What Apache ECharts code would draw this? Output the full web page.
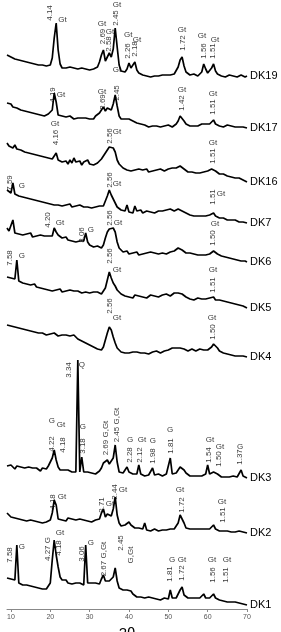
<!DOCTYPE html>
<html><head><meta charset="utf-8">
<script src="https://cdn.jsdelivr.net/npm/echarts@6/dist/echarts.min.js"></script>
<style>html,body{margin:0;padding:0;background:#fff}#c{width:281px;height:632px}</style>
</head><body><div id="c"></div>
<script>
// 2-theta scan positions (degrees)
const twoTheta = [9,9.5,10,10.5,11,11.5,12,12.5,13,13.5,14,14.5,15,15.5,16,16.5,17,17.5,18,18.5,
19,19.5,20,20.5,21,21.5,22,22.5,23,23.5,24,24.5,25,25.5,26,26.5,27,27.5,28,28.5,
29,29.5,30,30.5,31,31.5,32,32.5,33,33.5,34,34.5,35,35.5,36,36.5,37,37.5,38,38.5,
39,39.5,40,40.5,41,41.5,42,42.5,43,43.5,44,44.5,45,45.5,46,46.5,47,47.5,48,48.5,
49,49.5,50,50.5,51,51.5,52,52.5,53,53.5,54,54.5,55,55.5,56,56.5,57,57.5,58,58.5,
59,59.5,60,60.5,61,61.5,62,62.5,63,63.5,64,64.5,65,65.5,66,66.5,67,67.5,68,68.5,69,69.5,70];

const sampleNames = ['DK19','DK17','DK16','DK7','DK6','DK5','DK4','DK3','DK2','DK1'];
// vertical stacking offset of each pattern (intensity units)
const offsets = [532,481,427,386,347,301,252,129,76,4];

const dk19 = [22,24,20,21,18,20,17,19,16,18, 15,17,14,16,13,15,12,14,12,13, 11,13,12,19,39,54,27,13,9,8,
9,7,10,8,9,11,8,7,9,8, 8,10,7,9,8,9,10,15,22,27, 16,20,24,20,28,49,30,12,6,4,
5,8,14,9,10,15,7,4,3,2, 3,1,2,0,2,1,3,1,0,2, 1,2,0,2,1,3,5,10,17,20,
11,5,3,2,1,3,2,1,2,5, 13,8,4,6,9,13,6,3,2,1, 2,0,1,2,0,1,2,0,1,2, 1,0,1];
const dk17 = [25,23,24,21,22,20,21,18,19,17, 18,16,17,15,16,14,15,13,14,12, 13,14,12,18,35,26,13,11,12,10,
11,9,12,10,9,11,10,8,10,9, 10,8,9,11,9,12,11,15,18,21, 17,20,21,18,24,33,22,12,9,8,
9,8,9,10,7,6,5,6,4,3, 3,2,1,3,2,1,2,3,1,2, 2,1,3,2,1,2,4,7,12,13,
7,4,3,2,3,2,3,2,3,4, 6,4,3,4,5,8,4,3,2,3, 1,2,3,1,2,0,1,2,1,0, 1,0,0];
const dk16 = [39,36,38,34,37,33,35,32,34,30, 32,29,31,28,30,27,29,26,28,25, 26,24,25,23,26,29,22,21,20,19,
21,18,22,19,24,20,18,21,17,20, 19,22,18,20,17,18,19,21,23,26, 29,32,35,33,34,30,22,18,16,14,
13,12,14,11,13,12,10,13,11,12, 11,13,10,12,11,10,12,11,13,12, 11,12,13,12,14,15,14,15,16,15,
13,11,10,9,10,11,9,10,9,10, 10,9,11,10,13,15,11,9,8,8, 8,7,6,7,5,6,4,3,4,2, 2,1,0];
const dk7 = [33,31,30,40,29,30,27,28,26,27, 25,26,24,25,23,24,22,23,21,22, 20,21,19,20,18,20,18,19,17,19,
18,17,19,16,18,17,16,18,17,16, 17,16,18,15,17,16,15,17,16,17, 22,27,33,28,24,20,16,14,13,14,
12,18,11,13,10,17,12,11,13,10, 11,12,10,11,12,10,11,12,13,12, 11,13,12,14,13,12,13,14,13,12,
11,10,9,8,9,7,8,7,6,7, 6,7,6,8,9,10,7,6,5,4, 5,4,3,4,3,2,3,2,1,2, 1,0,0];
const dk6 = [34,31,33,42,29,31,28,30,27,29, 28,26,29,25,27,26,24,27,25,26, 24,26,25,26,34,30,27,25,24,23,
25,22,24,21,23,20,22,21,20,21, 29,20,17,16,15,14,16,15,14,17, 24,30,33,32,34,30,20,14,12,10,
9,11,8,10,9,8,10,7,9,8, 7,9,8,10,8,9,7,8,10,9, 10,8,9,10,9,11,13,14,13,12,
10,9,8,9,7,8,9,7,8,7, 8,7,9,8,9,11,12,8,7,6, 6,5,6,4,5,3,4,2,3,1, 2,1,0];
const dk5 = [31,29,30,28,29,48,27,26,25,26, 24,25,23,22,24,21,22,20,21,19, 20,18,19,17,19,18,17,19,16,18,
17,16,18,16,17,15,17,16,15,17, 16,18,15,17,16,15,16,15,14,16, 20,28,36,30,25,22,18,16,14,13,
12,13,11,12,10,13,11,12,10,11, 12,10,11,13,11,12,10,11,12,13, 12,14,13,12,14,15,16,15,16,14,
12,11,10,9,10,8,9,10,8,9, 8,9,8,10,9,11,8,7,8,6, 7,5,6,4,5,3,4,2,3,1, 2,1,0];
const dk4 = [32,30,31,29,30,28,29,27,28,26, 27,25,26,24,25,23,24,22,24,23, 22,24,23,22,24,23,21,23,22,24,
22,23,21,23,22,20,18,17,16,15, 14,13,12,11,10,9,8,7,7,10, 17,24,30,27,20,14,9,7,5,6,
4,5,4,6,5,4,5,3,4,5, 4,5,3,4,5,4,6,5,4,5, 6,5,7,8,9,8,9,10,9,8,
8,7,6,7,8,7,6,7,8,7, 7,8,7,9,10,13,14,9,6,5, 4,5,3,4,2,3,1,2,1,0, 1,0,0];
const dk3 = [14,12,15,13,11,14,12,13,11,12, 10,13,11,12,10,12,11,9,12,10, 11,14,18,22,30,20,13,10,9,10,
8,10,9,8,10,8,120,8,23,8, 7,8,6,7,8,6,7,9,12,17, 15,20,16,14,22,35,18,8,6,7,
6,13,8,9,6,7,6,15,6,5, 4,6,5,4,12,5,4,6,5,4, 5,6,4,22,6,5,7,6,13,15,
10,7,5,4,5,4,5,4,5,4, 4,6,15,6,5,8,10,6,4,3, 4,3,4,3,2,4,3,3,4,10, 4,2,2];
const dk2 = [20,18,16,17,15,16,14,15,13,14, 12,14,13,11,12,13,11,12,10,12, 11,11,13,20,33,28,14,12,13,14,
12,15,13,14,12,13,11,14,12,13, 11,12,13,11,12,13,12,14,20,24, 16,19,20,17,24,36,18,10,7,6,
8,10,11,8,6,5,4,5,3,4, 10,3,4,2,3,4,3,2,4,3, 2,3,2,4,3,4,6,10,18,20,
10,5,3,4,3,4,3,4,3,4, 6,4,3,4,6,8,4,3,2,3, 2,1,2,3,1,2,1,0,2,1, 1,0,0];
const dk1 = [27,25,26,24,25,60,22,21,20,19, 20,18,19,17,18,16,17,15,16,15, 16,18,22,45,65,50,38,28,25,24,
25,22,24,21,23,22,20,22,21,20, 60,22,23,22,24,22,23,21,26,30, 24,22,24,23,28,37,24,17,16,15,
17,15,16,14,11,9,8,7,8,6, 7,5,8,6,7,5,6,7,5,6, 7,5,6,15,7,8,7,9,15,18,
10,8,7,6,7,6,7,6,7,6, 11,7,6,7,7,11,7,6,5,6, 4,5,3,4,3,2,3,1,2,1, 1,0,0];
const traces = [dk19,dk17,dk16,dk7,dk6,dk5,dk4,dk3,dk2,dk1];

// d-spacing annotations (rotated): [2theta, height, text]
const dLabels = [
[19.79,596,'4.14'],[33.39,572.5,'2.69'],[34.92,565,'2.58'],[36.70,591,'2.45'],[39.79,558,'2.26'],[41.56,560,'2.18'],[53.60,566,'1.72'],[59.07,558,'1.56'],[61.36,558,'1.51'],
[20.68,514,'4.19'],[33.39,507,'2.69'],[36.95,516,'2.45'],[53.48,506,'1.42'],[61.36,502,'1.51'],
[21.44,471.5,'4.16'],[35.17,473,'2.56'],[61.36,453,'1.51'],
[9.75,426,'7.59'],[35.17,429,'2.56'],[61.36,412,'1.51'],
[19.41,389,'4.20'],[28.05,374,'3.06'],[35.17,391,'2.56'],[61.36,371,'1.50'],
[9.75,351,'7.58'],[35.17,353,'2.56'],[61.36,324,'1.51'],
[35.17,303,'2.56'],[61.36,277,'1.50'],
[24.75,239,'3.34'],[20.42,165,'4.22'],[23.22,164,'4.18'],[28.31,163,'3.18'],[34.15,171,'2.69 G,Gt'],[36.95,184,'2.45 G,Gt'],[40.30,154,'2.28'],[42.80,154,'2.12'],[46.10,153,'1.98'],[50.68,163,'1.81'],[60.34,154,'1.54'],[62.88,150,'1.50'],[68.22,152,'1.37'],
[20.68,107,'4.18'],[33.14,104,'2.71'],[36.44,117,'2.44'],[53.48,104,'1.72'],[63.90,94,'1.51'],
[9.75,54,'7.58'],[19.41,60,'4.27 G'],[22.20,61,'4.18'],[28.05,55,'3.06'],[33.65,50,'2.67 G,Gt'],[37.97,66,'2.45'],[40.50,54,'G,Gt'],[50.43,35,'1.81'],[53.48,36,'1.72'],[61.36,34,'1.56'],[64.67,34,'1.51']
];
// phase annotations (upright): [2theta, height, text]
const phaseLabels = [
[23.09,589,'Gt'],[33.14,585,'Gt'],[35.17,577,'Gt'],[36.95,604,'Gt'],[39.79,574,'Gt'],[42.04,569,'Gt'],[53.48,579,'Gt'],[58.56,573,'Gt'],[61.87,569,'Gt'],
[22.71,514,'Gt'],[33.14,517,'Gt'],[36.95,539,'Gt'],[53.48,519,'Gt'],[61.36,515,'Gt'],
[21.19,485,'Gt'],[36.95,477,'Gt'],[61.36,466,'Gt'],
[12.80,423,'G'],[36.95,425,'Gt'],[63.39,415,'Gt'],
[22.46,386,'Gt'],[30.34,379,'G'],[37.20,386,'Gt'],[61.87,385,'Gt'],
[12.80,353,'G'],[36.95,339,'Gt'],[61.36,339,'Gt'],
[36.95,291,'Gt'],[61.10,291,'Gt'],
[28.05,244,'Q'],[20.42,188,'G'],[22.71,184,'Gt'],[28.31,182,'G'],[40.30,169,'G'],[43.31,169,'Gt'],[46.10,168,'G'],[50.43,179,'G'],[60.60,169,'Gt'],[63.14,162,'Gt'],[68.22,162,'G'],
[22.97,112,'Gt'],[35.17,105,'Gt'],[38.48,119,'Gt'],[52.97,119,'Gt'],[63.64,107,'Gt'],
[12.80,62,'G'],[22.46,76,'Gt'],[30.34,66,'G'],[50.94,49,'G'],[53.48,49,'Gt'],[61.10,49,'Gt'],[64.92,49,'Gt']
];
const tickValues = [10,20,30,40,50,60,70];

const FONT = '"Liberation Sans", Arial, sans-serif';
const chart = echarts.init(document.getElementById('c'), null, {renderer:'canvas'});
const series = traces.map((vals,k)=>({
  type:'line', name:sampleNames[k],
  data: twoTheta.map((t,i)=>[t, offsets[k]+vals[i]]),
  symbol:'none', showSymbol:false, clip:false, silent:true,
  lineStyle:{color:'#000', width:1.7},
  endLabel:{show:true, formatter:'{a}', color:'#000', fontSize:11, fontFamily:FONT, distance:3}
}));
series.push({
  type:'scatter', symbolSize:0, silent:true, z:5,
  data: dLabels.map(d=>({value:[d[0],d[1]], label:{formatter:d[2]}})),
  label:{show:true, position:'inside', rotate:90, fontSize:8, color:'#000', fontFamily:FONT}
});
series.push({
  type:'scatter', symbolSize:0, silent:true, z:5,
  data: phaseLabels.map(d=>({value:[d[0],d[1]], label:{formatter:d[2]}})),
  label:{show:true, position:'inside', fontSize:8, color:'#000', fontFamily:FONT}
});
chart.setOption({
  animation:false,
  grid:{left:7, right:34, top:0, bottom:23, containLabel:false, outerBoundsMode:'none'},
  xAxis:{type:'value', min:9, max:70,
    axisLine:{lineStyle:{color:'#888', width:1}},
    axisTick:{customValues:tickValues, length:3, lineStyle:{color:'#888'}},
    axisLabel:{customValues:tickValues, fontSize:7, color:'#555', margin:5, fontFamily:FONT},
    splitLine:{show:false},
    name:'2θ', nameLocation:'middle', nameGap:15,
    nameTextStyle:{fontSize:15, color:'#000', fontFamily:FONT}},
  yAxis:{type:'value', min:0, max:609, show:false},
  series
});
</script></body></html>
